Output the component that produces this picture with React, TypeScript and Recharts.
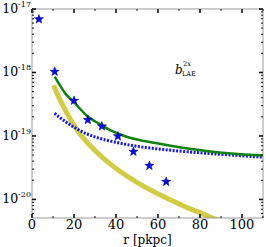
import { ComposedChart, Line, Scatter, XAxis, YAxis } from 'recharts';

// stacked two-halo measurement (stars)
const starR = [3.3, 10.8, 20, 26.6, 33.3, 40.9, 48.3, 55.9, 63.9];
const starB = [6.9e-18, 1.03e-18, 3.6e-19, 1.79e-19, 1.42e-19, 9.9e-20, 5.66e-20, 3.4e-20, 1.9e-20];

// green solid model
const greenR = [10.8, 13, 16, 20, 26, 32, 38, 44, 50, 58, 66, 75, 85, 95, 110];
const greenB = [8.6e-19, 6.5e-19, 4.6e-19, 3.4e-19, 2.1e-19, 1.55e-19, 1.2e-19, 1.0e-19, 8.8e-20, 7.8e-20, 7.0e-20, 6.3e-20, 5.7e-20, 5.3e-20, 4.9e-20];

// blue dotted model
const blueR = [10.8, 13, 16, 19, 22, 26, 30, 35, 40, 46, 55, 65, 75, 85, 95, 110];
const blueB = [2.28e-19, 1.98e-19, 1.68e-19, 1.44e-19, 1.26e-19, 1.08e-19, 9.66e-20, 8.65e-20, 7.94e-20, 7.24e-20, 6.53e-20, 6.0e-20, 5.6e-20, 5.27e-20, 5.0e-20, 4.63e-20];

// yellow thick model
const yellowR = [10.3, 13, 15.5, 19, 22, 26, 30, 36, 42, 50, 58, 66, 74, 80, 86, 90];
const yellowB = [6.3e-19, 3.9e-19, 2.7e-19, 1.66e-19, 1.17e-19, 8.1e-20, 5.9e-20, 3.9e-20, 2.75e-20, 1.86e-20, 1.32e-20, 9.8e-21, 7.4e-21, 6.2e-21, 5.1e-21, 4.6e-21];

const xTicks = [0, 10, 20, 30, 40, 50, 60, 70, 80, 90, 100, 110];
const decades = [-21, -20, -19, -18, -17];
const mantissas = [1, 2, 3, 4, 5, 6, 7, 8, 9];

const yMin = 5.1e-21;
const yMax = 1e-17;

const zip = (rs: number[], bs: number[]) => rs.map((r, i) => ({ r, b: bs[i] }));
const stars = zip(starR, starB);
const green = zip(greenR, greenB);
const blue = zip(blueR, blueB);
const yellow = zip(yellowR, yellowB);

const yTicks = decades
  .flatMap(d => mantissas.map(m => m * Math.pow(10, d)))
  .filter(v => v >= yMin * 0.999 && v <= yMax * 1.001);

const isDecade = (v: number) => Math.abs(Math.log10(v) - Math.round(Math.log10(v))) < 1e-6;

const font = '"DejaVu Serif", serif';
const tickColor = '#111';

const BottomTick = ({ x, y, payload }: any) => {
  const major = payload.value % 20 === 0;
  return (
    <g>
      <line x1={x} x2={x} y1={y} y2={y - (major ? 4 : 2)} stroke={tickColor} strokeWidth={major ? 1.6 : 1} />
      {major && payload.value <= 100 && (
        <text x={x} y={y + 11} textAnchor="middle" fontFamily={font} fontSize={13} fill="#000">
          {payload.value}
        </text>
      )}
    </g>
  );
};

const TopTick = ({ x, y, payload }: any) => {
  const major = payload.value % 20 === 0;
  return <line x1={x} x2={x} y1={y} y2={y + (major ? 4 : 2)} stroke={tickColor} strokeWidth={major ? 1.6 : 1} />;
};

const LeftTick = ({ x, y, payload }: any) => {
  const major = isDecade(payload.value);
  const exp = Math.round(Math.log10(payload.value));
  return (
    <g>
      <line x1={x} x2={x + (major ? 4 : 2)} y1={y} y2={y} stroke={tickColor} strokeWidth={major ? 1.6 : 1} />
      {major && (
        <text x={x - 1} y={y + 4} textAnchor="end" fontFamily={font} fontSize={12.5} fill="#000">
          <tspan>10</tspan>
          <tspan dy={-6} fontSize={8}>{exp}</tspan>
        </text>
      )}
    </g>
  );
};

const RightTick = ({ x, y, payload }: any) => {
  const major = isDecade(payload.value);
  return <line x1={x} x2={x - (major ? 4 : 2)} y1={y} y2={y} stroke={tickColor} strokeWidth={major ? 1.6 : 1} />;
};

const StarShape = ({ cx, cy }: any) => {
  if (cx == null || cy == null) return null;
  const pts: string[] = [];
  for (let i = 0; i < 10; i++) {
    const rad = i % 2 === 0 ? 4.8 : 2;
    const a = -Math.PI / 2 + (i * Math.PI) / 5;
    pts.push(`${cx + rad * Math.cos(a)},${cy + rad * Math.sin(a)}`);
  }
  return <polygon points={pts.join(' ')} fill="#0a0adf" stroke="#00007a" strokeWidth={0.5} />;
};

export default function App() {
  return (
    <div style={{ position: 'absolute', left: 0, top: 0, width: 266, height: 247, background: '#fff' }}>
      <ComposedChart width={266} height={247} margin={{ top: 8, right: 2, left: 0, bottom: 0 }}>
        <XAxis
          xAxisId="bottom"
          dataKey="r"
          type="number"
          domain={[0, 110]}
          ticks={xTicks}
          interval={0}
          allowDataOverflow
          height={29}
          tickSize={0}
          tickMargin={0}
          tickLine={false}
          axisLine={{ stroke: '#999', strokeWidth: 1 }}
          tick={BottomTick}
          label={{ value: 'r [pkpc]', position: 'insideBottom', offset: 3, fontFamily: font, fontSize: 12, fill: '#000' }}
        />
        <XAxis
          xAxisId="top"
          orientation="top"
          dataKey="r"
          type="number"
          domain={[0, 110]}
          ticks={xTicks}
          interval={0}
          allowDataOverflow
          height={1}
          tickSize={0}
          tickMargin={0}
          tickLine={false}
          axisLine={{ stroke: '#999', strokeWidth: 1 }}
          tick={TopTick}
        />
        <YAxis
          yAxisId="left"
          dataKey="b"
          type="number"
          scale="log"
          domain={[yMin, yMax]}
          ticks={yTicks}
          interval={0}
          allowDataOverflow
          width={32}
          tickSize={0}
          tickMargin={0}
          tickLine={false}
          axisLine={{ stroke: '#999', strokeWidth: 1 }}
          tick={LeftTick}
        />
        <YAxis
          yAxisId="right"
          orientation="right"
          dataKey="b"
          type="number"
          scale="log"
          domain={[yMin, yMax]}
          ticks={yTicks}
          interval={0}
          allowDataOverflow
          width={1}
          tickSize={0}
          tickMargin={0}
          tickLine={false}
          axisLine={{ stroke: '#999', strokeWidth: 1 }}
          tick={RightTick}
        />
        <Line
          xAxisId="bottom"
          yAxisId="left"
          data={yellow}
          dataKey="b"
          type="monotone"
          stroke="#d2cb45"
          strokeWidth={5}
          dot={false}
          isAnimationActive={false}
        />
        <Line
          xAxisId="bottom"
          yAxisId="left"
          data={blue}
          dataKey="b"
          type="monotone"
          stroke="#1515f0"
          strokeWidth={3}
          strokeDasharray="2 1.5"
          dot={false}
          isAnimationActive={false}
        />
        <Line
          xAxisId="bottom"
          yAxisId="left"
          data={green}
          dataKey="b"
          type="monotone"
          stroke="#0e820e"
          strokeWidth={2.5}
          dot={false}
          isAnimationActive={false}
        />
        <Scatter
          xAxisId="bottom"
          yAxisId="left"
          data={stars}
          dataKey="b"
          shape={StarShape}
          isAnimationActive={false}
        />
      </ComposedChart>
      <svg width={266} height={247} style={{ position: 'absolute', left: 0, top: 0, pointerEvents: 'none' }}>
        <text x={175} y={74} fontFamily={font} fontSize={12} fontStyle="italic" fill="#000">b</text>
        <text x={183} y={66} fontFamily={font} fontSize={6.5} fill="#000">2x</text>
        <text x={182} y={76} fontFamily={font} fontSize={6.5} fill="#000">LAE</text>
      </svg>
    </div>
  );
}
